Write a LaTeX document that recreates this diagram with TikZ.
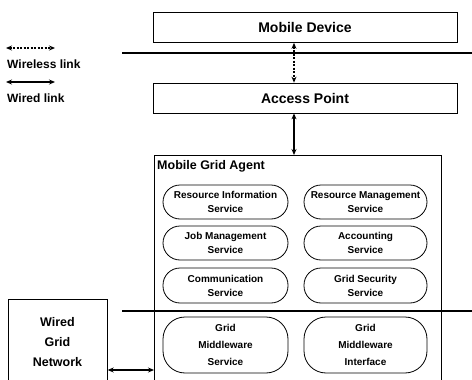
\documentclass[tikz,border=0pt]{standalone}
\usepackage{fontspec}
\setmainfont{Liberation Sans}
\usetikzlibrary{arrows.meta, calc}

\begin{document}
\begin{tikzpicture}[x=1pt, y=-1pt,
    every node/.style={font=\bfseries},
    layerbox/.style={draw, line width=0.7pt, minimum width=304pt, minimum height=30pt, font=\bfseries\fontsize{14}{15}\selectfont},
    svcbox/.style={draw, line width=0.8pt, rounded corners=17pt, minimum height=34pt, align=center, inner sep=1pt, font=\bfseries\fontsize{10}{14}\selectfont},
    bigsvc/.style={svcbox, rounded corners=22pt, minimum height=56pt, font=\bfseries\fontsize{10}{17}\selectfont},
    wired/.style={{Stealth[length=6pt,width=5pt]}-{Stealth[length=6pt,width=5pt]}, line width=1.3pt},
    wireless/.style={wired, dash pattern=on 2pt off 1.5pt}]

      \useasboundingbox (0,0) rectangle (472,380);

      \def\colL{225.5}
      \def\colR{365.5}
      \def\wL{125}
      \def\wR{123}

      % layers at the top
      \node[layerbox] (device) at (305,27.5) {Mobile Device};
      \node[layerbox] (access) at (305,98) {Access Point};

      % zone separators
      \draw[line width=1.1pt] (122,53) -- (472,53);
      \draw[line width=1.1pt] (122,311) -- (472,311);

      % agent box, open at the bottom of the page
      \node[draw, line width=0.7pt, minimum width=287pt, minimum height=232pt, anchor=north west,
            inner sep=0pt] (agent) at (154,155) {};
      \node[anchor=north west, font=\bfseries\fontsize{12.5}{15}\selectfont, inner sep=0pt] (agenttitle)
        at (157,160) {Mobile Grid Agent};

      % services
      \node[svcbox, minimum width=\wL pt] (resinfo) at (\colL,202) {Resource Information\\Service};
      \node[svcbox, minimum width=\wR pt] (resmgmt) at (\colR,202) {Resource Management\\Service};
      \node[svcbox, minimum width=\wL pt] (jobmgmt) at (\colL,243) {Job Management\\Service};
      \node[svcbox, minimum width=\wR pt] (account) at (\colR,243) {Accounting\\Service};
      \node[svcbox, minimum width=\wL pt, minimum height=35pt] (comm) at (\colL,285.5) {Communication\\Service};
      \node[svcbox, minimum width=\wR pt, minimum height=35pt] (security) at (\colR,285.5) {Grid Security\\Service};
      \node[bigsvc, minimum width=\wL pt] (mwservice) at (\colL,345) {Grid\\Middleware\\Service};
      \node[bigsvc, minimum width=\wR pt] (mwiface) at (\colR,345) {Grid\\Middleware\\Interface};

      % wired grid network
      \node[draw, line width=0.7pt, minimum width=99pt, minimum height=88pt, anchor=north west,
            inner sep=0pt] (gridnet) at (8,299) {};
      \node[align=center, font=\bfseries\fontsize{12.5}{20}\selectfont] (gridtext) at (57.5,342)
        {Wired\\Grid\\Network};

      % links
      \coordinate (axis) at (294,0);
      \coordinate (netrow) at (0,370);
      \draw[wireless] (device.south -| axis) -- (access.north -| axis);
      \draw[wired] (access.south -| axis) -- (agent.north -| axis);
      \draw[wired] (gridnet.east |- netrow) -- (agent.west |- netrow);

      % legend
      \coordinate (wlA) at (6,48);
      \coordinate (wlB) at (55,48);
      \coordinate (wdA) at (6,82);
      \coordinate (wdB) at (55,82);
      \draw[wireless, line width=1.1pt] (wlA) -- (wlB);
      \draw[wired, line width=1.1pt] (wdA) -- (wdB);
      \node[anchor=west, inner sep=0pt, font=\bfseries\fontsize{12}{13}\selectfont] (wltext) at (7,64) {Wireless link};
      \node[anchor=west, inner sep=0pt, font=\bfseries\fontsize{12}{13}\selectfont] (wdtext) at (7,98) {Wired link};

\end{tikzpicture}
\end{document}
